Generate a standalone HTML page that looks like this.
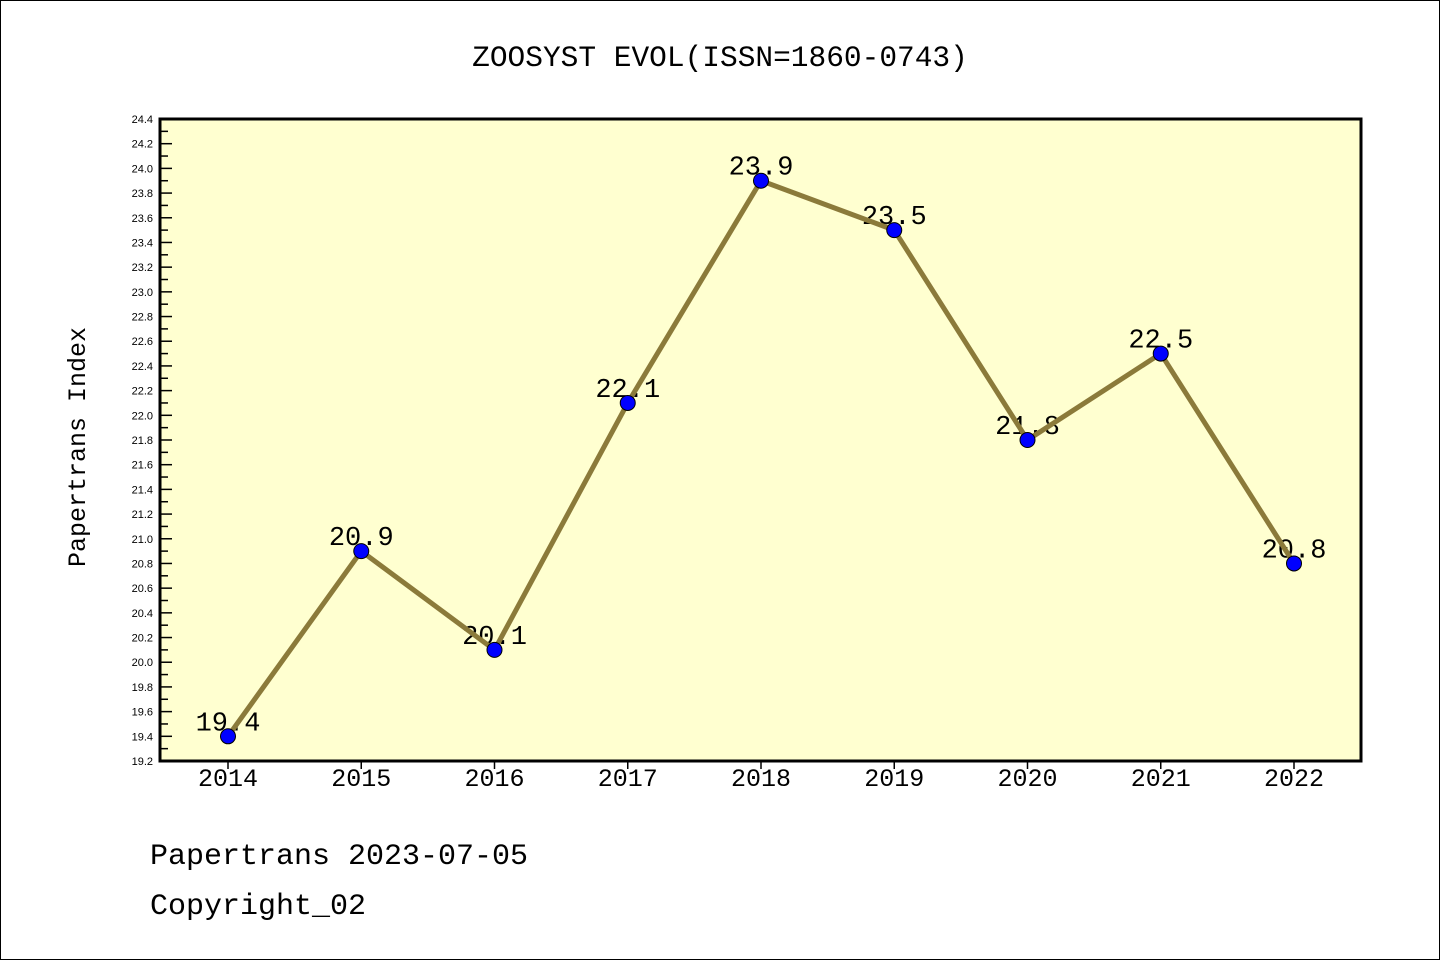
<!DOCTYPE html>
<html><head><meta charset="utf-8"><style>
body{margin:0;background:#fff}
svg text{font-family:"Liberation Mono","WenQuanYi Zen Hei",monospace}
svg text.sans{font-family:"Liberation Sans",sans-serif}
</style></head><body>
<svg width="1440" height="960" xmlns="http://www.w3.org/2000/svg">
<rect x="0.5" y="0.5" width="1439" height="959" fill="#fff" stroke="#000"/>
<text x="720" y="66" font-size="29.5" text-anchor="middle">ZOOSYST EVOL(ISSN=1860-0743)</text>
<rect x="160" y="119" width="1201" height="642" fill="#ffffd0"/>
<g id="yaxis"></g>
<g id="xaxis"></g>
<g id="series"></g>
<rect x="160" y="119" width="1201" height="642" fill="none" stroke="#000" stroke-width="3"/>
<text transform="translate(85,447) rotate(-90)" font-size="25" text-anchor="middle">Papertrans Index</text>
<text x="150" y="864" font-size="30">Papertrans 2023-07-05</text>
<text x="150" y="914" font-size="30">Copyright_02</text>
</svg>
<script>
const years=["2014","2015","2016","2017","2018","2019","2020","2021","2022"];
const values=[19.4,20.9,20.1,22.1,23.9,23.5,21.8,22.5,20.8];
const labels=["19.4","20.9","20.1","22.1","23.9","23.5","21.8","22.5","20.8"];
const yMin=19.2,yMax=24.4;
const NS="http://www.w3.org/2000/svg";
const L=160,R=1361,T=119,B=761;
function ys(v){return B-(v-yMin)/(yMax-yMin)*(B-T);}
function xs(i){return 228+i*(1294-228)/(years.length-1);}
function mk(t,a,p){const e=document.createElementNS(NS,t);for(const k in a)e.setAttribute(k,a[k]);p.appendChild(e);return e;}
const ya=document.getElementById('yaxis'),xa=document.getElementById('xaxis'),se=document.getElementById('series');
for(let k=0;k<=52;k++){const v=yMin+k*0.1;const y=ys(v);const major=k%2===0;
const t=mk('line',{x1:L,x2:L+(major?12:8),y1:y,y2:y,stroke:'#000','stroke-width':1.5},ya);

if(major){const tx=mk('text',{x:153,y:y+4,'font-size':11,'text-anchor':'end','class':'sans'},ya);tx.textContent=v.toFixed(1);
}}
years.forEach((yr,i)=>{const x=xs(i);
const t=mk('line',{x1:x,x2:x,y1:B,y2:B+8,stroke:'#000','stroke-width':1.5},xa);

const tx=mk('text',{x:x,y:786,'font-size':25,'text-anchor':'middle'},xa);tx.textContent=yr;
});
values.forEach((v,i)=>{const tx=mk('text',{x:xs(i),y:ys(v)-6,'font-size':27,'text-anchor':'middle'},se);tx.textContent=labels[i];
});
const pl=mk('polyline',{points:values.map((v,i)=>xs(i)+','+ys(v)).join(' '),fill:'none',stroke:'#8b7a3a','stroke-width':5},se);

values.forEach((v,i)=>{const c=mk('circle',{cx:xs(i),cy:ys(v),r:7.5,fill:'#0000ff',stroke:'#000','stroke-width':1},se);
});
</script>
</body></html>
